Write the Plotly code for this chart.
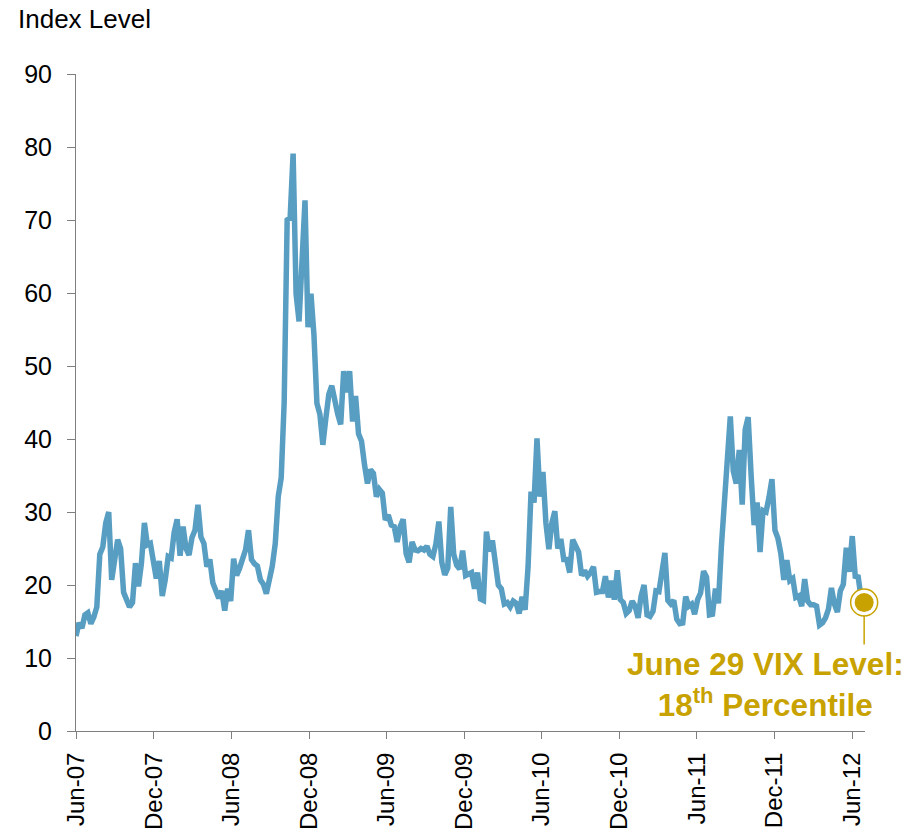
import pandas as pd
import plotly.graph_objects as go

# Weekly VIX closes, first Friday = 2007-06-01, last = 2012-06-29
vix_2007 = [13.0, 14.8, 14.1, 15.9, 16.2, 14.7, 15.6, 17.0, 24.2, 25.2, 28.5, 30.0,
            20.7, 23.4, 26.2, 25.0, 19.0, 18.0, 17.0, 17.6, 23.0, 19.8, 23.0, 28.5,
            25.5, 25.7, 22.9, 20.9, 23.3, 18.5, 20.7]
vix_2008 = [23.9, 23.7, 27.2, 29.0, 24.0, 28.0, 25.0, 24.1, 26.5, 27.5, 31.0, 26.6,
            25.7, 22.5, 23.5, 20.3, 19.4, 18.2, 19.2, 16.5, 19.5, 17.8, 23.6, 21.3,
            22.3, 23.6, 24.8, 27.5, 23.5, 22.9, 22.6, 20.7, 20.1, 18.8, 20.7, 22.6,
            25.7, 32.1, 34.7, 45.1, 70.0, 70.3, 79.1, 59.9, 56.1, 66.3, 72.7, 55.3,
            59.9, 54.3, 44.9, 43.4]
vix_2009 = [39.2, 42.8, 46.1, 47.3, 44.8, 43.4, 42.0, 49.3, 46.4, 49.3, 42.4, 45.9,
            40.7, 39.7, 36.5, 33.9, 35.8, 35.3, 32.1, 33.1, 32.6, 28.9, 29.6, 28.2,
            28.0, 25.9, 28.0, 29.0, 24.3, 23.1, 25.9, 24.8, 24.7, 25.0, 24.8, 25.3,
            24.2, 23.9, 25.6, 28.7, 23.1, 21.4, 22.3, 30.7, 24.2, 22.7, 22.2, 24.7,
            21.3, 21.6, 21.7, 19.5, 21.7]
vix_2010 = [18.1, 17.9, 27.3, 24.6, 26.1, 22.7, 20.0, 19.5, 17.4, 17.6, 17.0, 17.8,
            17.5, 16.1, 18.4, 16.6, 22.5, 32.8, 31.3, 40.1, 32.1, 35.5, 28.5, 24.9,
            28.5, 30.1, 25.0, 26.3, 23.5, 23.5, 21.7, 26.2, 25.5, 24.5, 21.3, 22.0,
            21.2, 21.7, 22.5, 19.0, 19.1, 19.1, 21.2, 18.3, 20.6, 18.0, 22.0, 18.0,
            17.6, 16.1, 16.5, 17.8]
vix_2011 = [17.1, 15.5, 18.5, 20.0, 15.9, 15.7, 16.4, 19.2, 19.1, 21.9, 24.4, 17.9,
            17.4, 17.9, 15.3, 14.7, 14.8, 18.4, 17.1, 17.4, 16.0, 18.0, 18.9, 21.9,
            21.1, 15.9, 16.0, 19.5, 17.5, 25.3, 31.7, 36.4, 43.1, 35.6, 33.9, 38.5,
            31.0, 41.3, 43.0, 35.0, 28.2, 31.3, 24.5, 30.2, 30.0, 32.0, 34.5, 27.5,
            26.4, 24.3, 20.7, 23.4]
vix_2012 = [20.6, 20.9, 18.3, 18.5, 17.1, 20.8, 17.8, 17.3, 17.3, 17.1, 14.5, 14.8,
            15.5, 16.7, 19.6, 17.4, 16.3, 19.2, 20.1, 25.1, 21.8, 26.7, 21.2, 21.1,
            18.1, 17.6]

vix = vix_2007 + vix_2008 + vix_2009 + vix_2010 + vix_2011 + vix_2012
dates = pd.date_range("2007-06-01", periods=len(vix), freq="7D")

tick_dates = pd.date_range("2007-06-01", "2012-06-01", freq="6MS")
tick_labels = [d.strftime("%b-%y") for d in tick_dates]

BLUE = "#589DC2"
GOLD = "#C8A200"
AXIS = "#7F7F7F"
FONT = "Liberation Sans, Arial, sans-serif"

fig = go.Figure()
fig.add_trace(go.Scatter(x=dates, y=vix, mode="lines",
                         line=dict(color=BLUE, width=5.5), hoverinfo="skip"))
fig.add_trace(go.Scatter(x=[dates[-1]], y=[vix[-1]], mode="markers",
                         marker=dict(size=27, color="white", line=dict(color=GOLD, width=1.5)),
                         cliponaxis=False, hoverinfo="skip"))
fig.add_trace(go.Scatter(x=[dates[-1]], y=[vix[-1]], mode="markers",
                         marker=dict(size=19, color=GOLD, line=dict(width=0)),
                         cliponaxis=False, hoverinfo="skip"))

fig.add_shape(type="line", xref="x", yref="y", x0=dates[-1], x1=dates[-1],
              ysizemode="pixel", yanchor=vix[-1], y0=-13, y1=-42,
              line=dict(color=GOLD, width=1.5))

fig.add_annotation(text="<b>June 29 VIX Level:<br>18<sup style='font-size:60%'>th</sup> Percentile</b>",
                   xref="paper", yref="paper", x=0.8745, y=0.0715,
                   xanchor="center", yanchor="middle", showarrow=False, align="center",
                   font=dict(family=FONT, size=31.5, color=GOLD))

fig.update_layout(
    width=918, height=832,
    margin=dict(l=76, r=53, t=74, b=101),
    paper_bgcolor="white", plot_bgcolor="white",
    showlegend=False,
    font=dict(family=FONT, size=25, color="black"),
    title=dict(text="Index Level", x=18/918, xref="container", xanchor="left",
               yref="container", y=1 - 19/832, yanchor="middle",
               font=dict(family=FONT, size=26, color="black")),
    xaxis=dict(type="date", range=["2007-06-01", "2012-07-01"], automargin=False,
               tickmode="array", tickvals=tick_dates, ticktext=tick_labels,
               tickangle=-90, ticks="outside", ticklen=7, tickcolor=AXIS, tickwidth=1,
               showline=True, linecolor=AXIS, linewidth=1, showgrid=False, zeroline=False,
               ticklabelstandoff=4, tickfont=dict(size=24)),
    yaxis=dict(range=[0, 90], dtick=10, tick0=0, ticks="outside", ticklen=8, automargin=False,
               tickcolor=AXIS, tickwidth=1, showline=True, linecolor=AXIS, linewidth=1,
               showgrid=False, zeroline=False, ticklabelstandoff=10,
               tickfont=dict(size=25)),
)

fig.write_html("out.html", config={"displayModeBar": False},
               post_script="document.body.style.margin='0px';document.body.style.overflow='hidden';")
